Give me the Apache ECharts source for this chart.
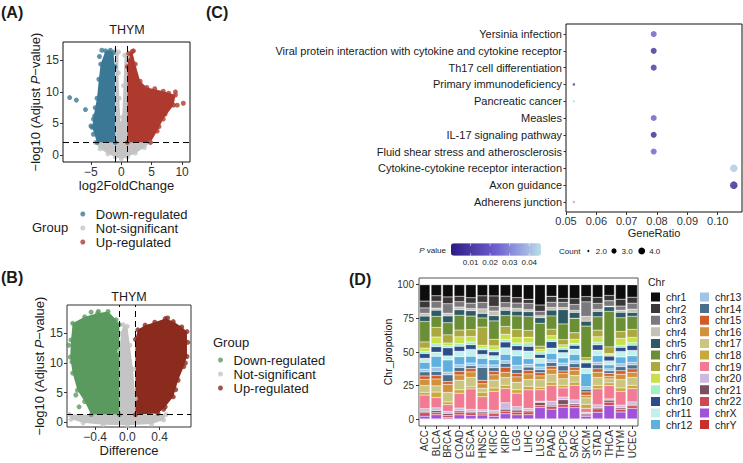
<!DOCTYPE html>
<html>
<head>
<meta charset="utf-8">
<script src="https://cdn.jsdelivr.net/npm/echarts@6/dist/echarts.min.js"></script>
<style>
  html, body { margin: 0; padding: 0; background: #fff; }
  #chart { width: 743px; height: 463px; }
</style>
</head>
<body>
<div id="chart"></div>
<script>
// ---------- data ----------
const groups = ['Down-regulated', 'Not-significant', 'Up-regulated'];

// (A) THYM volcano: log2FoldChange vs -log10(adj p). dense clouds as outlines + loose points
const aDownCloud = [[-1, 2], [-4.0, 2], [-4.8, 4.4], [-4.6, 5.7], [-4.3, 7.5], [-4.0, 9], [-3.7, 12], [-3.4, 14.4], [-2.6, 16.5], [-1.8, 16.6], [-1.3, 16.2], [-1.05, 14]];
const aUpCloud = [[1, 2], [4.8, 2], [5.9, 3.8], [6.9, 5.7], [8.6, 7.9], [8.9, 9.5], [6.9, 10.1], [4.2, 10.7], [3.1, 11.7], [2.3, 14.4], [1.8, 16.4], [1.2, 16.1], [1, 14]];
const aNsCloud = [[-4.3, 2], [-3.5, 1], [-2.2, 0.2], [-1, -0.3], [0, -0.6], [1, -0.3], [2.3, 0.3], [3.8, 1.2], [4.8, 2], [1, 2], [1, 15.6], [0.55, 15.8], [0.35, 11], [0.15, 6], [-0.15, 5], [-0.35, 9], [-0.5, 13], [-0.45, 16.3], [-1, 16.5], [-1, 2]];
const aDownPts = [[-8.5, 9.1], [-7.4, 8.7], [-5.9, 7.2], [-5.0, 4.6], [-4.6, 3.3], [-3.6, 15.6], [-3.2, 16.6], [-4.4, 6.2]];
const aUpPts = [[10.2, 8.2], [8.9, 10], [7.8, 9.8], [8.3, 8.6], [9.2, 7.9], [7.2, 6.5], [6.2, 4.5], [5.5, 10.5], [2.0, 16.5]];

// (B) THYM volcano: Difference vs -log10(adj p)
const bDownCloud = [[-0.1, 1.3], [-0.45, 1.3], [-0.53, 3.5], [-0.62, 5.4], [-0.68, 8.3], [-0.71, 11], [-0.70, 13.9], [-0.68, 16.7], [-0.53, 17.8], [-0.37, 18.4], [-0.24, 18.7], [-0.14, 17.3], [-0.1, 16.5]];
const bUpCloud = [[0.1, 1.3], [0.38, 1.5], [0.47, 2.6], [0.57, 4.3], [0.63, 7.1], [0.70, 9.4], [0.74, 11.1], [0.74, 15.3], [0.675, 16.1], [0.57, 17.0], [0.47, 17.5], [0.34, 16.9], [0.22, 16.4], [0.13, 15.6], [0.1, 14]];
const bNsCloud = [[-0.72, 1.3], [-0.7, 0.5], [-0.55, -0.1], [-0.3, -0.4], [0, -0.5], [0.3, -0.3], [0.45, 0.4], [0.48, 1.3], [0.1, 1.3], [0.1, 4], [0.07, 9], [0.03, 13], [0.0, 16.2], [-0.05, 16.5], [-0.08, 15], [-0.1, 12], [-0.1, 1.3]];
const bDownPts = [[-0.69, 10.2], [-0.64, 4.6], [-0.6, 2.6], [-0.73, 13], [-0.45, 18.6], [-0.36, 18.7]];
const bUpPts = [[0.5, 17.6], [0.75, 13.5], [0.72, 10], [0.6, 5.5], [0.45, 2.2]];

// (C) KEGG enrichment
const pathways = ['Yersinia infection', 'Viral protein interaction with cytokine and cytokine receptor', 'Th17 cell differentiation', 'Primary immunodeficiency', 'Pancreatic cancer', 'Measles', 'IL-17 signaling pathway', 'Fluid shear stress and atherosclerosis', 'Cytokine-cytokine receptor interaction', 'Axon guidance', 'Adherens junction'];
const geneRatio = [0.0789, 0.0789, 0.0789, 0.0526, 0.0526, 0.0789, 0.0789, 0.0789, 0.1053, 0.1053, 0.0526];
const pValue = [0.021, 0.006, 0.008, 0.009, 0.045, 0.021, 0.004, 0.022, 0.042, 0.003, 0.039];
const geneCount = [3, 3, 3, 2, 2, 3, 3, 3, 4, 4, 2];
const pTicks = [0.01, 0.02, 0.03, 0.04];
const countTicks = [2, 3, 4];

// (D) chromosome proportion per cancer type (chr1..chr22, chrX, chrY)
const cancers = ['ACC', 'BLCA', 'BRCA', 'COAD', 'ESCA', 'HNSC', 'KIRC', 'KIRP', 'LGG', 'LIHC', 'LUSC', 'PAAD', 'PCPG', 'SARC', 'SKCM', 'STAD', 'THCA', 'THYM', 'UCEC'];
const chrs = ['chr1', 'chr2', 'chr3', 'chr4', 'chr5', 'chr6', 'chr7', 'chr8', 'chr9', 'chr10', 'chr11', 'chr12', 'chr13', 'chr14', 'chr15', 'chr16', 'chr17', 'chr18', 'chr19', 'chr20', 'chr21', 'chr22', 'chrX', 'chrY'];
const chrRows = [
  [12, 5, 4, 2, 4, 15, 4.5, 2.5, 1.5, 3.5, 3, 5, 2, 3, 2.5, 4.5, 5, 2, 10, 2, 1, 2.5, 2, 0.3],      // ACC
  [8, 4, 5, 1.5, 4.5, 8, 7, 5, 2, 4, 3, 8, 3, 3, 2.5, 5, 4.5, 4, 7.5, 2, 1.5, 1.5, 3, 0.3],         // BLCA
  [9, 5, 7, 2, 5, 9, 6, 2, 1.5, 6, 3, 9, 2, 5, 2, 6, 7, 2, 5, 1.5, 1.5, 1.5, 1, 0.3],               // BRCA
  [8.5, 4, 4, 2, 4, 11, 5, 5, 2, 3.7, 4, 6, 2, 3, 2.5, 4, 7, 2.5, 11, 2, 1, 2, 3, 0.3],             // COAD
  [9.5, 4, 4, 1.5, 4, 10, 5, 4, 2, 3.5, 5, 5, 2, 2, 2.5, 4, 7, 1.5, 15, 1.5, 1, 2, 2.5, 0.3],       // ESCA
  [8.5, 5, 5, 3.5, 3.5, 7, 14, 2, 1.5, 3.5, 3, 5, 2, 10, 2.5, 3.5, 3, 3.5, 10, 1.5, 1, 1.5, 3, 0.3],// HNSC
  [8.5, 8, 3.5, 3.5, 4, 14, 5, 3, 1.5, 3, 3, 4, 2, 3, 2.5, 4, 6, 2.5, 14.5, 1.5, 1, 2, 2, 0.3],     // KIRC
  [8.8, 5, 4, 2, 4, 8.5, 6, 4, 2, 4.5, 5, 5, 2, 3, 4, 4, 6, 2.5, 11, 5, 1.5, 2, 4, 0.3],            // KIRP
  [9.5, 4, 4, 2, 3.5, 10, 6, 4, 2, 3.5, 4, 7, 3, 3, 2.5, 4, 5.5, 2.5, 10, 2.5, 1.5, 2, 3, 0.3],     // LGG
  [10.5, 3, 4.5, 1.5, 3.5, 10, 5, 4, 2.5, 3.5, 5.5, 4, 2, 2.5, 2.5, 4, 5, 2.5, 13.5, 1.5, 1, 2, 3, 0.3], // LIHC
  [16, 5, 3.5, 1.5, 4.5, 18, 2.5, 2, 2, 3, 4, 3, 2, 2.5, 2.5, 3, 6, 2, 9, 1, 2.5, 1.5, 9, 0.3],     // LUSC
  [8.8, 4.5, 4, 2, 4.5, 10, 5, 3, 1.5, 5, 4, 5, 2, 3, 2, 4, 6, 2.5, 12, 3, 1, 2, 7.5, 0.3],         // PAAD
  [10.5, 3, 4, 1.5, 11, 12, 4, 2, 1.5, 2.5, 4, 4, 2, 4, 2, 4, 5, 2, 7, 2, 3.7, 2, 9, 0.3],          // PCPG
  [10.5, 4.5, 4.5, 1.5, 4.5, 11, 5, 3, 1.5, 3, 4, 5, 2, 3, 2, 4, 5, 2.5, 11, 3, 1, 2, 8.5, 0.3],    // SARC
  [9, 4, 11, 3.7, 3.7, 24, 2, 1, 1, 4, 4, 10, 2, 2, 2.5, 2, 5, 3, 3, 1, 1, 1, 2, 0.3],              // SKCM
  [9.5, 4.5, 4.5, 1.5, 4, 10, 5, 4, 2, 4, 4, 5, 2, 3, 2.5, 4, 6, 2.5, 12, 2, 1, 2.5, 5, 0.3],       // STAD
  [8, 4, 4, 0.5, 3.5, 26.5, 5, 1, 1, 3.5, 3, 3, 1.5, 2, 2, 2, 3, 2, 10, 1, 1.5, 2.5, 10, 0.3],      // THCA
  [10.5, 5, 3, 1.5, 4, 10, 5, 5, 1.5, 3, 4, 5, 2, 3, 2.5, 4, 6, 2.5, 10, 2, 1, 2, 5, 0.3],          // THYM
  [9.5, 4.5, 4.5, 2.5, 3, 10, 6, 4, 2, 4, 4, 5, 2, 3, 2.5, 4, 6, 2.5, 10, 2, 1, 2, 8, 0.3]          // UCEC
];

// ---------- styles ----------
const FONT = 'Liberation Sans, Arial, sans-serif';
const TXT = '#1a1a1a';
const TICK = '#333';
const aColors = ['#3b7895', '#c4c4c4', '#ae3a2f'];
const bColors = ['#5b9a5f', '#c4c4c4', '#8a2b1e'];
const chrColors = ['#0d0d0d', '#3b3738', '#7b797d', '#c5c1b6', '#2e5a66', '#6a8f35', '#aaa83e', '#c9e04a', '#a2f0c9', '#2f4c8a',
  '#c1f1ed', '#5fb0de', '#9fc4e6', '#4b6f8a', '#d15b29', '#d1913a', '#cac682', '#c9a93a', '#f27a92', '#cdb9dd',
  '#7a5061', '#cd4951', '#a152d9', '#c8302c'];
const pColors = ['#2c1b84', '#6f5fcf', '#b9deea'];
const pMin = 0, pMax = 0.046;
const countSize = { 2: 2.5, 3: 6, 4: 7.5 };

function minus(v) { return String(v).replace('-', '\u2212'); }

function box(left, top, width, height, border) {
  return { left: left, top: top, width: width, height: height, show: true, borderColor: border, borderWidth: 1, backgroundColor: 'transparent' };
}

function valueAxis(gi, min, max, ticks, fmt, name, nameGap, extra) {
  return Object.assign({
    type: 'value', gridIndex: gi, min: min, max: max,
    axisLine: { show: false, onZero: false },
    axisTick: { show: true, length: 3, customValues: ticks, lineStyle: { color: TICK } },
    axisLabel: { customValues: ticks, formatter: fmt, fontSize: 12, color: TICK, fontFamily: FONT, margin: 4 },
    splitLine: { show: false },
    name: name, nameLocation: 'middle', nameGap: nameGap,
    nameTextStyle: { fontSize: 13, color: TXT, fontFamily: FONT }
  }, extra || {});
}

function cloud(gi, poly, color) {
  return {
    type: 'custom', xAxisIndex: gi, yAxisIndex: gi, silent: true, clip: true, data: [0],
    renderItem: function (params, api) {
      return { type: 'polygon', shape: { points: poly.map(function (p) { return api.coord(p); }) }, style: { fill: color } };
    }
  };
}

function dots(gi, name, pts, color) {
  return { type: 'scatter', name: name, xAxisIndex: gi, yAxisIndex: gi, data: pts, symbolSize: 5, itemStyle: { color: color }, silent: true };
}

function dashes(lines) {
  return {
    silent: true, symbol: ['none', 'none'], label: { show: false },
    lineStyle: { type: [6, 4], color: '#000', width: 1 }, data: lines
  };
}

// ---------- series ----------
const series = [];
// A
series.push(cloud(0, aNsCloud, aColors[1]), cloud(0, aDownCloud, aColors[0]), cloud(0, aUpCloud, aColors[2]));
series.push(dots(0, groups[1], aNsCloud, aColors[1]), dots(0, groups[0], aDownCloud.concat(aDownPts), aColors[0]));
const aUp = dots(0, groups[2], aUpCloud.concat(aUpPts), aColors[2]);
aUp.markLine = dashes([{ xAxis: -1 }, { xAxis: 1 }, { yAxis: 2 }]);
series.push(aUp);
// B
series.push(cloud(1, bNsCloud, bColors[1]), cloud(1, bDownCloud, bColors[0]), cloud(1, bUpCloud, bColors[2]));
series.push(dots(1, groups[1], bNsCloud, bColors[1]), dots(1, groups[0], bDownCloud.concat(bDownPts), bColors[0]));
const bUp = dots(1, groups[2], bUpCloud.concat(bUpPts), bColors[2]);
bUp.markLine = dashes([{ xAxis: -0.1 }, { xAxis: 0.1 }, { yAxis: 1.3 }]);
series.push(bUp);
// C
const cIndex = series.length;
series.push({
  type: 'scatter', name: 'KEGG', xAxisIndex: 2, yAxisIndex: 2, silent: true,
  data: pathways.map(function (p, i) { return [geneRatio[i], i, pValue[i], geneCount[i]]; }),
  symbolSize: function (v) { return countSize[v[3]]; }
});
// D: proportions, stacked with chr1 on top
const rowSums = chrRows.map(function (r) { return r.reduce(function (a, b) { return a + b; }, 0); });
for (let k = chrs.length - 1; k >= 0; k--) {
  series.push({
    type: 'bar', name: chrs[k], xAxisIndex: 3, yAxisIndex: 3, stack: 'chr', barCategoryGap: '10%',
    data: chrRows.map(function (r, i) { return r[k] / rowSums[i] * 100; }),
    itemStyle: { color: chrColors[k], borderColor: '#fff', borderWidth: 0.3 }, silent: true
  });
}

// ---------- free text / legend keys ----------
function label(text, x, y, size, align, extra) {
  return { type: 'text', x: x, y: y, silent: true, z: 100, style: Object.assign({ text: text, fill: TXT, fontSize: size, fontFamily: FONT, align: align || 'left', verticalAlign: 'middle', textAlign: align || 'left', textVerticalAlign: 'middle' }, extra || {}) };
}
const cbLeft = 451, cbTop = 243.3, cbLen = 90, cbThick = 12.4;
const graphics = [
  label('(A)', 1, 12, 16, 'left', { fontWeight: 'bold' }),
  label('(C)', 206, 12, 16, 'left', { fontWeight: 'bold' }),
  label('(B)', 1, 277, 16, 'left', { fontWeight: 'bold' }),
  label('(D)', 349, 279, 16, 'left', { fontWeight: 'bold' }),
  label('THYM', 127, 30, 12.5, 'center'),
  label('THYM', 129, 297, 12.5, 'center'),
  label('Group', 32, 227, 13),
  label('Group', 213, 342, 13),
  label('Chr', 648, 282, 10.5),
  label('{i|P} value', 446, 250, 8, 'right', { rich: { i: { fontStyle: 'italic', fontSize: 8, fontFamily: FONT, fill: TXT } } }),
  label('Count', 559, 251, 8)
];
pTicks.forEach(function (t) {
  const x = cbLeft + (t - pMin) / (pMax - pMin) * cbLen;
  graphics.push(label(t.toFixed(2), x, 262, 8, 'center'));
  graphics.push({ type: 'line', silent: true, z: 100, shape: { x1: x, y1: cbTop, x2: x, y2: cbTop + 2.5 }, style: { stroke: '#fff', lineWidth: 0.6 } });
  graphics.push({ type: 'line', silent: true, z: 100, shape: { x1: x, y1: cbTop + cbThick - 2.5, x2: x, y2: cbTop + cbThick }, style: { stroke: '#fff', lineWidth: 0.6 } });
});
const countX = [588.3, 614, 641.7];
countTicks.forEach(function (c, i) {
  graphics.push({ type: 'circle', silent: true, shape: { cx: countX[i], cy: 251, r: [1, 2.6, 3.4][i] }, style: { fill: '#000' } });
  graphics.push(label(c.toFixed(1), countX[i] + 7.5, 251, 8));
});

const groupLegend = function (left, top, colors) {
  return {
    orient: 'vertical', left: left, top: top, padding: 0, itemGap: 1, itemWidth: 16, itemHeight: 5, icon: 'circle',
    selectedMode: false, textStyle: { fontSize: 13, color: TXT, fontFamily: FONT, lineHeight: 13 },
    data: groups.map(function (g, i) { return { name: g, itemStyle: { color: colors[i] } }; })
  };
};
const chrLegend = function (left, names) {
  return {
    orient: 'vertical', left: left, top: 290.5, padding: 0, itemGap: -1.4, itemWidth: 11, itemHeight: 11, icon: 'rect',
    selectedMode: false, textStyle: { fontSize: 10.5, color: TXT, fontFamily: FONT, lineHeight: 11 },
    data: names
  };
};

const yNameA = '{a|\u2212log10 (Adjust }{i|P}{a|\u2212value)}';
const yNameStyle = { fontSize: 13, color: TXT, fontFamily: FONT, rich: { a: { fontSize: 13, color: TXT, fontFamily: FONT }, i: { fontStyle: 'italic', fontSize: 13, color: TXT, fontFamily: FONT } } };
const cTicks = [0.05, 0.06, 0.07, 0.08, 0.09, 0.10];
const rowTicks = pathways.map(function (p, i) { return i; });

// ---------- chart ----------
const chart = echarts.init(document.getElementById('chart'), null, { renderer: 'svg' });
chart.setOption({
  animation: false,
  backgroundColor: '#fff',
  textStyle: { fontFamily: FONT },
  grid: [
    box(63, 42, 127, 120, '#111'),
    box(67, 305, 124, 122, '#333'),
    box(566, 24, 176, 188, '#111'),
    box(419, 278, 219, 148, '#555')
  ],
  xAxis: [
    valueAxis(0, -9.6, 11.3, [-5, 0, 5, 10], minus, 'log2FoldChange', 17),
    valueAxis(1, -0.75, 0.79, [-0.4, 0, 0.4], function (v) { return minus(v.toFixed(1)); }, 'Difference', 16.5),
    valueAxis(2, 0.05, 0.108, cTicks, null, 'GeneRatio', 15, {
      axisLabel: { customValues: cTicks, formatter: function (v) { return v.toFixed(2); }, fontSize: 11, color: TICK, fontFamily: FONT, margin: 3 },
      nameTextStyle: { fontSize: 11, color: TXT, fontFamily: FONT }
    }),
    {
      type: 'category', gridIndex: 3, data: cancers,
      axisLine: { show: false, onZero: false },
      axisTick: { show: true, alignWithLabel: true, length: 3, lineStyle: { color: TICK } },
      axisLabel: { interval: 0, rotate: 90, fontSize: 10, color: TICK, fontFamily: FONT, margin: 4 }
    }
  ],
  yAxis: [
    valueAxis(0, -1.1, 17.9, [0, 5, 10, 15], String, yNameA, 17, { nameTextStyle: yNameStyle }),
    valueAxis(1, -0.8, 19.8, [0, 5, 10, 15], String, yNameA, 21, { nameTextStyle: yNameStyle }),
    valueAxis(2, -0.6, 10.6, rowTicks, null, '', 0, {
      inverse: true,
      axisTick: { show: true, length: 2.5, customValues: rowTicks, lineStyle: { color: TICK } },
      axisLabel: { customValues: rowTicks, formatter: function (v) { return pathways[v]; }, fontSize: 11, color: TXT, fontFamily: FONT, margin: 4 }
    }),
    valueAxis(3, -5, 105, [0, 25, 50, 75, 100], String, 'Chr_propotion', 22, {
      axisLabel: { customValues: [0, 25, 50, 75, 100], fontSize: 10, color: TICK, fontFamily: FONT, margin: 5 },
      nameTextStyle: { fontSize: 10.5, color: TXT, fontFamily: FONT }
    })
  ],
  visualMap: [{
    type: 'continuous', seriesIndex: cIndex, dimension: 2, min: pMin, max: pMax,
    orient: 'horizontal', left: cbLeft - 15, top: cbTop - 15, itemWidth: cbThick, itemHeight: cbLen,
    text: ['', ''], calculable: false, hoverLink: false,
    inRange: { color: pColors }
  }],
  legend: [
    groupLegend(80.3, 207.5, aColors),
    groupLegend(218, 353.5, bColors),
    chrLegend(649, chrs.slice(0, 12)),
    chrLegend(698, chrs.slice(12))
  ],
  graphic: graphics,
  series: series
});
</script>
</body>
</html>
